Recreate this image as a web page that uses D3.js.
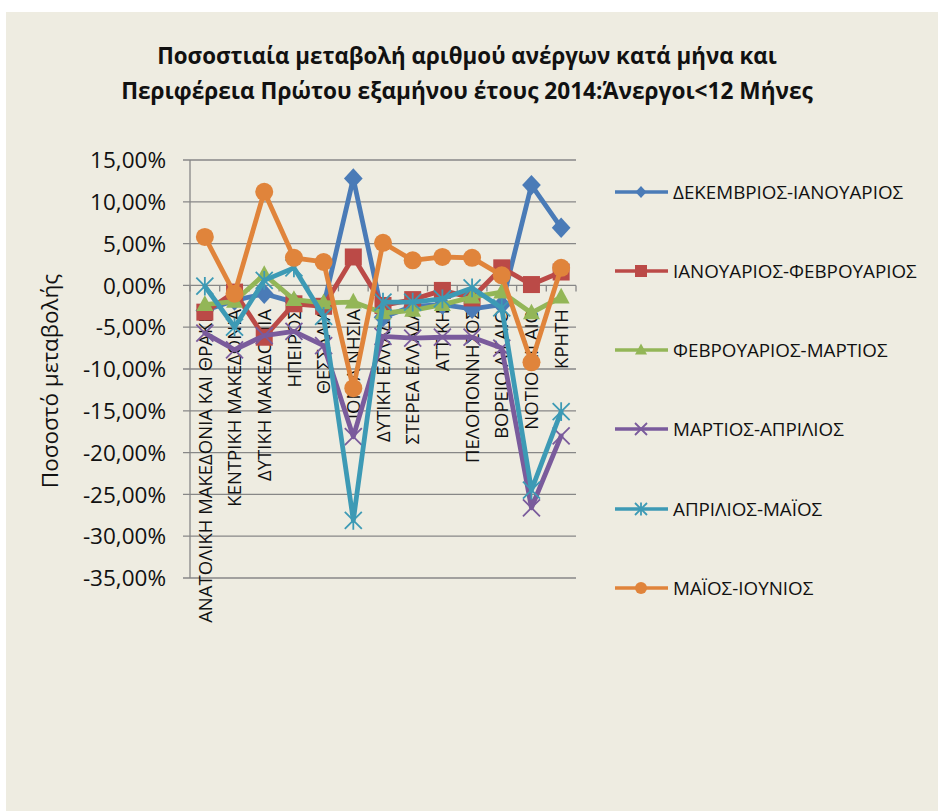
<!DOCTYPE html>
<html><head><meta charset="utf-8">
<script src="https://cdn.jsdelivr.net/npm/d3@7"></script>
<style>html,body{margin:0;padding:0;background:#fff;}svg{display:block;font-family:"Open Sans",sans-serif;}</style>
</head><body>
<svg id="chart" width="938" height="811"></svg>
<script>
const titleLines = ["Ποσοστιαία μεταβολή αριθμού ανέργων κατά μήνα και", "Περιφέρεια Πρώτου εξαμήνου έτους 2014:Άνεργοι<12 Μήνες"];
const yAxisTitle = "Ποσοστό μεταβολής";
const categories = ["ΑΝΑΤΟΛΙΚΗ ΜΑΚΕΔΟΝΙΑ ΚΑΙ ΘΡΑΚΗ","ΚΕΝΤΡΙΚΗ ΜΑΚΕΔΟΝΙΑ","ΔΥΤΙΚΗ ΜΑΚΕΔΟΝΙΑ","ΗΠΕΙΡΟΣ","ΘΕΣΣΑΛΙΑ","ΙΟΝΙΑ ΝΗΣΙΑ","ΔΥΤΙΚΗ ΕΛΛΑΔΑ","ΣΤΕΡΕΑ ΕΛΛΑΔΑ","ΑΤΤΙΚΗ","ΠΕΛΟΠΟΝΝΗΣΟΣ","ΒΟΡΕΙΟ ΑΙΓΑΙΟ","ΝΟΤΙΟ ΑΙΓΑΙΟ","ΚΡΗΤΗ"];
const seriesNames = ["ΔΕΚΕΜΒΡΙΟΣ-ΙΑΝΟΥΑΡΙΟΣ","ΙΑΝΟΥΑΡΙΟΣ-ΦΕΒΡΟΥΑΡΙΟΣ","ΦΕΒΡΟΥΑΡΙΟΣ-ΜΑΡΤΙΟΣ","ΜΑΡΤΙΟΣ-ΑΠΡΙΛΙΟΣ","ΑΠΡΙΛΙΟΣ-ΜΑΪΟΣ","ΜΑΪΟΣ-ΙΟΥΝΙΟΣ"];
// values in percent
const decJan = [-3.0, -1.8, -1.0, -2.0, -2.4, 12.8, -3.8, -2.5, -2.3, -2.8, -2.3, 12.0, 6.9];
const janFeb = [-3.2, -0.8, -6.2, -2.2, -2.5, 3.4, -2.4, -1.7, -0.6, -1.5, 2.1, 0.1, 1.6];
const febMar = [-2.3, -1.9, 1.3, -1.7, -2.1, -2.0, -3.3, -3.0, -2.3, -1.4, -0.8, -3.3, -1.4];
const marApr = [-5.7, -7.7, -6.0, -5.5, -7.2, -18.1, -6.1, -6.3, -6.2, -6.2, -7.5, -26.6, -18.0];
const aprMay = [-0.1, -5.0, 0.6, 2.1, -3.7, -28.1, -2.0, -2.0, -1.6, -0.3, -2.7, -24.5, -15.1];
const mayJun = [5.8, -1.0, 11.2, 3.3, 2.8, -12.3, 5.1, 3.0, 3.4, 3.3, 1.2, -9.2, 2.1];
const yTicks = [15, 10, 5, 0, -5, -10, -15, -20, -25, -30, -35];

const seriesValues = [decJan, janFeb, febMar, marApr, aprMay, mayJun];
const colors = ["#4a7bb7", "#bb4a47", "#93b657", "#7a5b9c", "#3d9ab5", "#e0843b"];
const markers = ["diamond", "square", "triangle", "x", "asterisk", "circle"];

const svg = d3.select("#chart");
svg.append("rect").attr("x", 6).attr("y", 12).attr("width", 932).attr("height", 799).attr("fill", "#eeece1");

// title
const title = svg.append("g").attr("font-weight", "bold").attr("fill", "#111");
const titleTargets = [{y: 64, w: 620}, {y: 99, w: 692}];
titleLines.forEach((t, i) => {
  const el = title.append("text").attr("x", 467).attr("y", titleTargets[i].y)
    .attr("text-anchor", "middle").attr("font-size", 20).text(t);
  const w = el.node().getComputedTextLength();
  el.attr("font-size", 20 * titleTargets[i].w / w);
});

const x = d3.scaleBand().domain(categories).range([190, 576]);
const y = d3.scaleLinear().domain([-35, 15]).range([578, 160]);
const cx = c => x(c) + x.bandwidth() / 2;

// gridlines
svg.append("g").selectAll("line").data(yTicks).join("line")
  .attr("x1", 183).attr("x2", 576).attr("y1", d => y(d)).attr("y2", d => y(d))
  .attr("stroke", "#878787").attr("stroke-width", 1.3);
// y axis line
svg.append("line").attr("x1", 190).attr("x2", 190).attr("y1", y(15)).attr("y2", y(-35))
  .attr("stroke", "#878787").attr("stroke-width", 1.3);
// category tick marks at zero line
svg.append("g").selectAll("line").data(categories.map((c, i) => i).concat([categories.length])).join("line")
  .attr("x1", i => 190 + i * x.step()).attr("x2", i => 190 + i * x.step())
  .attr("y1", y(0)).attr("y2", y(0) + 6).attr("stroke", "#878787").attr("stroke-width", 1.3);

// y tick labels
const fmt = d => d3.format(".2f")(d).replace(".", ",").replace("\u2212", "-") + "%";
svg.append("g").selectAll("text").data(yTicks).join("text")
  .attr("x", 166).attr("y", d => y(d)).attr("dy", "0.36em").attr("text-anchor", "end")
  .attr("font-size", 22.5).attr("fill", "#111").text(fmt);

// y axis title
svg.append("text").attr("transform", "translate(50,381) rotate(-90)")
  .attr("text-anchor", "middle").attr("dy", "0.36em").attr("font-size", 22.5).attr("fill", "#111").text(yAxisTitle);

// category labels
svg.append("g").selectAll("text").data(categories).join("text")
  .attr("transform", c => `translate(${cx(c)},309) rotate(-90)`)
  .attr("text-anchor", "end").attr("dy", "0.36em").attr("font-size", 18.5).attr("fill", "#111").text(c => c);

function drawMarker(g, type, color, s) {
  const h = s / 2;
  if (type === "diamond") {
    g.append("path").attr("d", `M0,${-h*1.2}L${h*1.1},0L0,${h*1.2}L${-h*1.1},0Z`).attr("fill", color);
  } else if (type === "square") {
    g.append("rect").attr("x", -h).attr("y", -h).attr("width", s).attr("height", s).attr("fill", color);
  } else if (type === "triangle") {
    g.append("path").attr("d", `M0,${-h*1.1}L${h},${h*0.75}L${-h},${h*0.75}Z`).attr("fill", color);
  } else if (type === "circle") {
    g.append("circle").attr("r", h).attr("fill", color);
  } else if (type === "x") {
    g.append("path").attr("d", `M${-h},${-h}L${h},${h}M${-h},${h}L${h},${-h}`).attr("stroke", color).attr("stroke-width", 1.8);
  } else if (type === "asterisk") {
    g.append("path").attr("d", `M${-h},${-h}L${h},${h}M${-h},${h}L${h},${-h}M0,${-h*1.1}L0,${h*1.1}`).attr("stroke", color).attr("stroke-width", 1.8);
  }
}

const line = d3.line().x((d, i) => cx(categories[i])).y(d => y(d));
seriesValues.forEach((vals, si) => {
  const g = svg.append("g");
  g.append("path").datum(vals).attr("d", line).attr("fill", "none")
    .attr("stroke", colors[si]).attr("stroke-width", 4.8).attr("stroke-linejoin", "round").attr("stroke-linecap", "round");
  vals.forEach((v, i) => {
    const m = g.append("g").attr("transform", `translate(${cx(categories[i])},${y(v)})`);
    drawMarker(m, markers[si], colors[si], markers[si] === "circle" ? 18 : 17);
  });
});

// legend
const legendY = [192, 271, 350, 429, 509, 588];
seriesNames.forEach((n, si) => {
  const g = svg.append("g").attr("transform", `translate(0,${legendY[si]})`);
  g.append("line").attr("x1", 615).attr("x2", 668).attr("y1", 0).attr("y2", 0)
    .attr("stroke", colors[si]).attr("stroke-width", 3.5);
  const m = g.append("g").attr("transform", "translate(641,0)");
  drawMarker(m, markers[si], colors[si], markers[si] === "diamond" ? 10 : 12);
  g.append("text").attr("x", 673).attr("y", 0).attr("dy", "0.36em").attr("font-size", 18.8).attr("fill", "#111").text(n);
});
</script>
</body></html>
